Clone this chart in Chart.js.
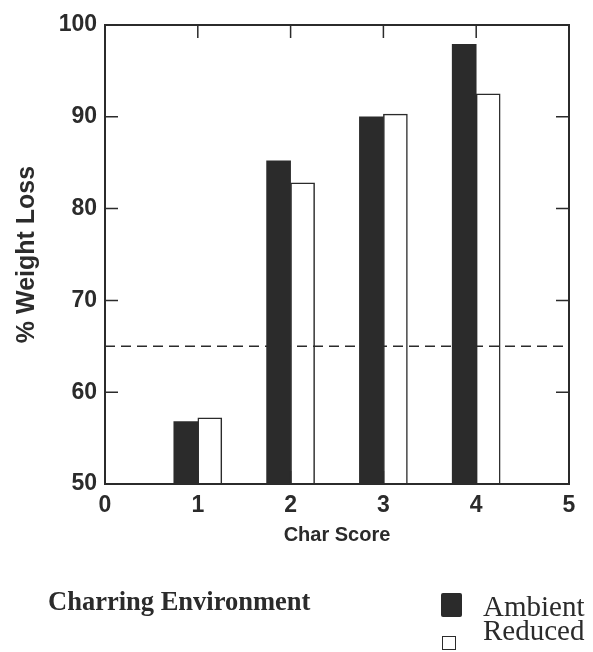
<!DOCTYPE html>
<html>
<head>
<meta charset="utf-8">
<script src="https://cdn.jsdelivr.net/npm/chart.js@4.4.1/dist/chart.umd.min.js"></script>
<style>
  html,body{margin:0;padding:0;background:#fff;}
  #wrap{position:relative;width:593px;height:652px;overflow:hidden;}
  #chart{position:absolute;left:0;top:0;}
  .serif{position:absolute;font-family:"Liberation Serif","Times New Roman",serif;color:#2b2b2b;white-space:nowrap;line-height:1;}
  #envTitle{left:48px;top:588px;font-size:26.5px;font-weight:bold;}
  #lgAmbient{left:483px;top:592px;font-size:29px;}
  #lgReduced{left:483px;top:616px;font-size:29px;}
  .box{position:absolute;box-sizing:border-box;}
  #boxAmbient{left:441px;top:593px;width:21px;height:24px;background:#2b2b2b;border-radius:2px;}
  #boxReduced{left:442px;top:636px;width:14px;height:14px;background:#fff;border:1.5px solid #2b2b2b;}
</style>
</head>
<body>
<div id="wrap">
  <canvas id="chart" width="593" height="652"></canvas>
  <div class="serif" id="envTitle">Charring Environment</div>
  <div class="box" id="boxAmbient"></div>
  <div class="serif" id="lgAmbient">Ambient</div>
  <div class="box" id="boxReduced"></div>
  <div class="serif" id="lgReduced">Reduced</div>
</div>
<script>
// valores
const charScores = [1, 2, 3, 4];
const ambientLoss = [56.8, 85.2, 90.0, 97.9];
const reducedLoss = [57.2, 82.8, 90.3, 92.5];
const xRange = [0, 5];
const yRange = [50, 100];
const threshold = 65;

const INK = "#2b2b2b";
const sansFont = "'Liberation Sans', Arial, sans-serif";

function points(values){
  return charScores.map((c,i)=>({x:c, y:values[i]}));
}

// marco con marcas hacia adentro en los cuatro lados
const frameTicks = {
  id:"frameTicks",
  afterDatasetsDraw(chart){
    const {ctx, chartArea:a, scales:{x, y}} = chart;
    ctx.save();
    ctx.strokeStyle = INK;
    ctx.lineWidth = 2;
    ctx.strokeRect(a.left, a.top, a.right-a.left, a.bottom-a.top);
    ctx.lineWidth = 1.5;
    ctx.beginPath();
    y.ticks.forEach(t=>{
      const py = y.getPixelForValue(t.value);
      ctx.moveTo(a.left, py); ctx.lineTo(a.left+13, py);
      ctx.moveTo(a.right, py); ctx.lineTo(a.right-13, py);
    });
    x.ticks.forEach(t=>{
      const px = x.getPixelForValue(t.value);
      ctx.moveTo(px, a.top); ctx.lineTo(px, a.top+13);
      ctx.moveTo(px, a.bottom); ctx.lineTo(px, a.bottom-13);
    });
    ctx.stroke();
    ctx.restore();
  }
};

new Chart(document.getElementById("chart"), {
  type:"bar",
  data:{
    datasets:[
      {
        label:"Ambient",
        data:points(ambientLoss),
        backgroundColor:INK,
        borderWidth:0,
        barThickness:24,
        order:0
      },
      {
        type:"line",
        label:"threshold",
        data:[{x:xRange[0], y:threshold}, {x:xRange[1], y:threshold}],
        borderColor:INK,
        borderWidth:1.5,
        borderDash:[10,6],
        pointRadius:0,
        fill:false,
        order:1
      },
      {
        label:"Reduced",
        data:points(reducedLoss),
        backgroundColor:"#ffffff",
        borderColor:INK,
        borderWidth:1.5,
        barThickness:24,
        order:2
      }
    ]
  },
  options:{
    responsive:false,
    animation:false,
    layout:{padding:{top:25, right:24, bottom:88, left:0}},
    plugins:{legend:{display:false}, tooltip:{enabled:false}},
    scales:{
      x:{
        type:"linear",
        min:xRange[0], max:xRange[1],
        offset:false,
        grid:{display:false, offset:false, drawTicks:false},
        border:{display:false},
        ticks:{stepSize:1, padding:8, color:INK, font:{family:sansFont, size:23, weight:"bold"}},
        title:{display:true, text:"Char Score", color:INK, padding:{top:0, bottom:17},
               font:{family:sansFont, size:20, weight:"bold", lineHeight:1.2}},
        afterFit(s){ s.height = 80; }
      },
      y:{
        min:yRange[0], max:yRange[1],
        grid:{display:false, drawTicks:false},
        border:{display:false},
        ticks:{stepSize:10, padding:8, color:INK, font:{family:sansFont, size:23, weight:"bold"}},
        title:{display:true, text:"% Weight Loss", color:INK, padding:{top:12, bottom:0},
               font:{family:sansFont, size:25, weight:"bold", lineHeight:1.2}},
        afterFit(s){ s.width = 105; }
      }
    }
  },
  plugins:[frameTicks]
});
</script>
</body>
</html>
